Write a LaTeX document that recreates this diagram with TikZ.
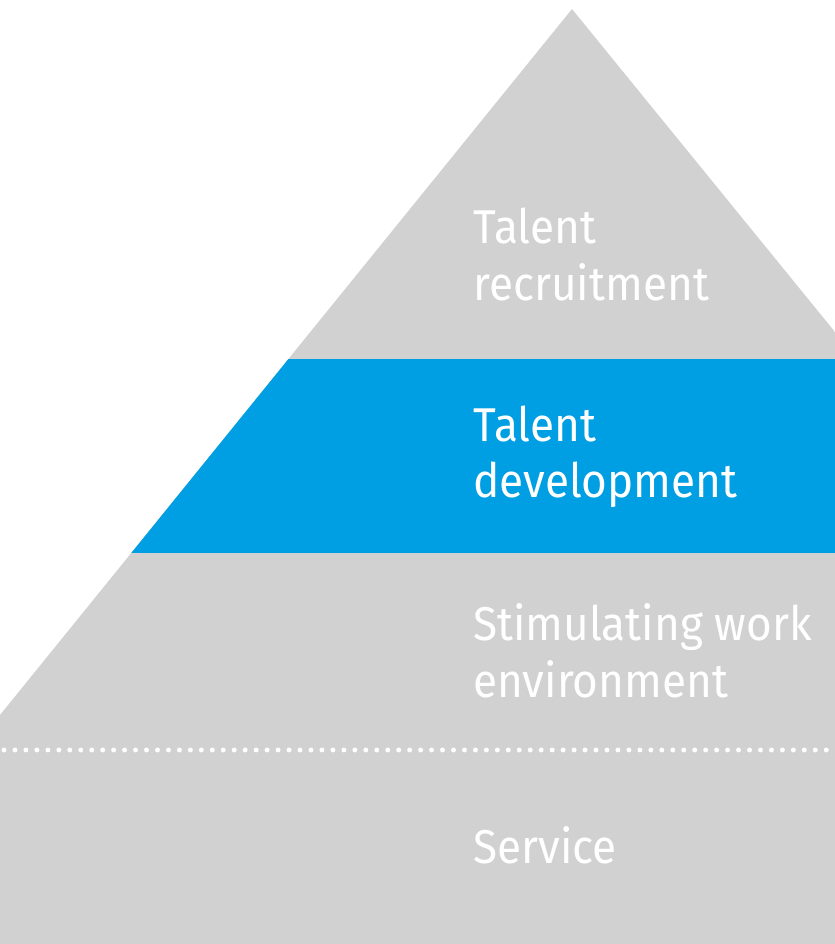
\documentclass[tikz,border=0pt]{standalone}
\usepackage{fontspec}
\setmainfont{Fira Sans}[FakeStretch=0.93]
\usetikzlibrary{positioning}
\definecolor{pyrgray}{HTML}{D1D1D1}
\definecolor{pyrblue}{HTML}{009FE3}

\begin{document}
\begin{tikzpicture}[x=0.02cm,y=-0.02cm,
  lbl/.style={anchor=base west,inner sep=0pt,text=white,font=\fontsize{27}{32}\selectfont},
  sep/.style={white,line width=2.8pt,line cap=round,dash pattern=on 0pt off 6.24pt}]

  \useasboundingbox (0,0) rectangle (835,944);

  % pyramid
  \begin{scope}
    \clip (572,9) -- (835,332) -- (835,944) -- (0,944) -- (0,715) -- cycle;
    \fill[pyrgray] (0,0) rectangle (835,944);
    \fill[pyrblue] (0,358.5) rectangle (835,553);
  \end{scope}

  % dotted line
  \coordinate (sepL) at (4,750);
  \coordinate (sepR) at (835,750);
  \draw[sep] (sepL) -- (sepR);

  % labels
  \node[lbl] (talentA) at (473,243) {Talent};
  \node[lbl] (recruit) at (473,300) {recruitment};
  \node[lbl] (talentB) at (473,441) {Talent};
  \node[lbl] (develop) at (473,497) {development};
  \node[lbl] (stimul)  at (473,640) {Stimulating work};
  \node[lbl] (environ) at (473,697) {environment};
  \node[lbl] (service) at (473,863) {Service};

\end{tikzpicture}
\end{document}
